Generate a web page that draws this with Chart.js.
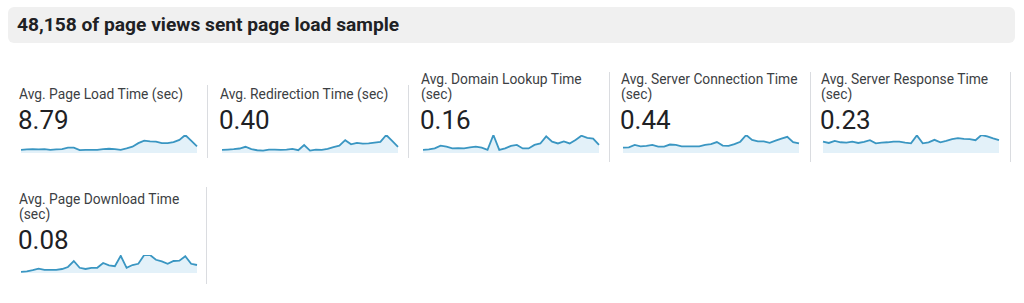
<!DOCTYPE html>
<html>
<head>
<meta charset="utf-8">
<script src="https://cdn.jsdelivr.net/npm/chart.js@4.4.1/dist/chart.umd.min.js"></script>
<style>
  body { margin: 0; width: 1024px; height: 303px; background: #fff; font-family: Roboto, "Noto Sans", sans-serif; position: relative; overflow: hidden; }
  .header { position: absolute; left: 8px; top: 7px; width: 1007px; height: 36px; background: #f0f0f0; border-radius: 6px; }
  .header span { position: absolute; left: 9px; top: 7px; font-size: 19.2px; font-weight: 700; color: #202124; line-height: 22px; }
  .card { position: absolute; width: 200px; }
  .sep { position: absolute; width: 1px; background: #dadce0; }
  .title { position: absolute; left: 0; width: 180px; bottom: 0; font-size: 13.8px; line-height: 14.5px; color: #3c4043; }
  .titlebox { position: absolute; left: 0; top: 0; width: 180px; height: 40px; }
  .value { position: absolute; left: -1px; top: 44px; font-size: 26px; line-height: 30px; color: #202124; }
  .card canvas { position: absolute; left: 1px; top: 72px; }
</style>
</head>
<body>
<div class="header"><span>48,158 of page views sent page load sample</span></div>
<div id="cards"></div>
<script>
// card titles and headline values
let titles = [
  "Avg. Page Load Time (sec)",
  "Avg. Redirection Time (sec)",
  "Avg. Domain Lookup Time (sec)",
  "Avg. Server Connection Time (sec)",
  "Avg. Server Response Time (sec)",
  "Avg. Page Download Time (sec)"
]
let totals = ["8.79", "0.40", "0.16", "0.44", "0.23", "0.08"]

// daily values (relative height above zero)
let pageLoad = [9, 10, 11, 10, 11, 9, 10, 11, 15, 15, 8, 9, 9, 9, 11, 12, 11, 9, 13, 18, 28, 35, 33, 32, 28, 28, 31, 37, 51, 35, 19]
let redirection = [9, 10, 11, 13, 18, 11, 8, 7, 10, 10, 9, 10, 12, 8, 23, 7, 10, 9, 12, 17, 21, 37, 25, 29, 27, 28, 30, 32, 52, 35, 18]
let domainLookup = [9, 10, 13, 21, 18, 13, 14, 13, 16, 18, 15, 9, 51, 9, 13, 20, 23, 13, 13, 23, 27, 47, 32, 27, 33, 27, 37, 49, 43, 41, 23]
let serverConnection = [15, 16, 23, 19, 20, 23, 18, 18, 24, 23, 19, 19, 19, 19, 23, 25, 31, 21, 20, 25, 32, 51, 37, 33, 33, 29, 35, 41, 46, 31, 27]
let serverResponse = [33, 29, 35, 31, 30, 33, 29, 32, 37, 28, 30, 31, 33, 33, 30, 28, 51, 28, 31, 38, 31, 35, 40, 43, 41, 40, 37, 52, 48, 42, 37]
let pageDownload = [3, 4, 7, 11, 8, 8, 8, 10, 15, 30, 13, 10, 13, 13, 25, 19, 17, 43, 13, 20, 23, 45, 45, 33, 29, 23, 30, 31, 42, 23, 20]
let days = pageLoad.map((v, i) => i + 1)

let series = [pageLoad, redirection, domainLookup, serverConnection, serverResponse, pageDownload]

// layout of the cards: left edge, top, separator top/bottom
let cardLeft = [19, 220, 421, 621, 821, 19]
let cardTop = [61, 61, 61, 61, 61, 181]
let sepX = [207, 408, 609, 810, 1010, 206]
let sepTop = [85, 85, 72, 72, 72, 187]
let sepBottom = [158, 158, 162, 162, 162, 284]

Chart.defaults.font.family = "Roboto"

function buildCards() {
  let holder = document.getElementById("cards")
  for (let i = 0; i < titles.length; i++) {
    let card = document.createElement("div")
    card.className = "card"
    card.style.left = cardLeft[i] + "px"
    card.style.top = cardTop[i] + "px"
    card.innerHTML =
      '<div class="titlebox"><div class="title">' + titles[i] + '</div></div>' +
      '<div class="value">' + totals[i] + '</div>' +
      '<canvas width="178" height="21"></canvas>'
    holder.appendChild(card)

    let sep = document.createElement("div")
    sep.className = "sep"
    sep.style.left = sepX[i] + "px"
    sep.style.top = sepTop[i] + "px"
    sep.style.height = (sepBottom[i] - sepTop[i]) + "px"
    holder.appendChild(sep)

    drawSpark(card.querySelector("canvas"), series[i])
  }
}

function drawSpark(canvas, values) {
  new Chart(canvas.getContext("2d"), {
    type: "line",
    data: {
      labels: days,
      datasets: [{
        data: values,
        borderColor: "#3a96c2",
        borderWidth: 1.8,
        backgroundColor: "#e3f1f9",
        fill: "origin",
        pointRadius: 0,
        tension: 0,
      }],
    },
    options: {
      responsive: false,
      animation: false,
      devicePixelRatio: 1,
      layout: { padding: { top: 2, bottom: 1, left: 1, right: 1 } },
      plugins: {
        legend: { display: false },
        tooltip: { enabled: false },
      },
      scales: {
        x: { display: false },
        y: { display: false, min: 0, max: Math.max(...values) },
      },
    },
  })
}

buildCards()
</script>
</body>
</html>
